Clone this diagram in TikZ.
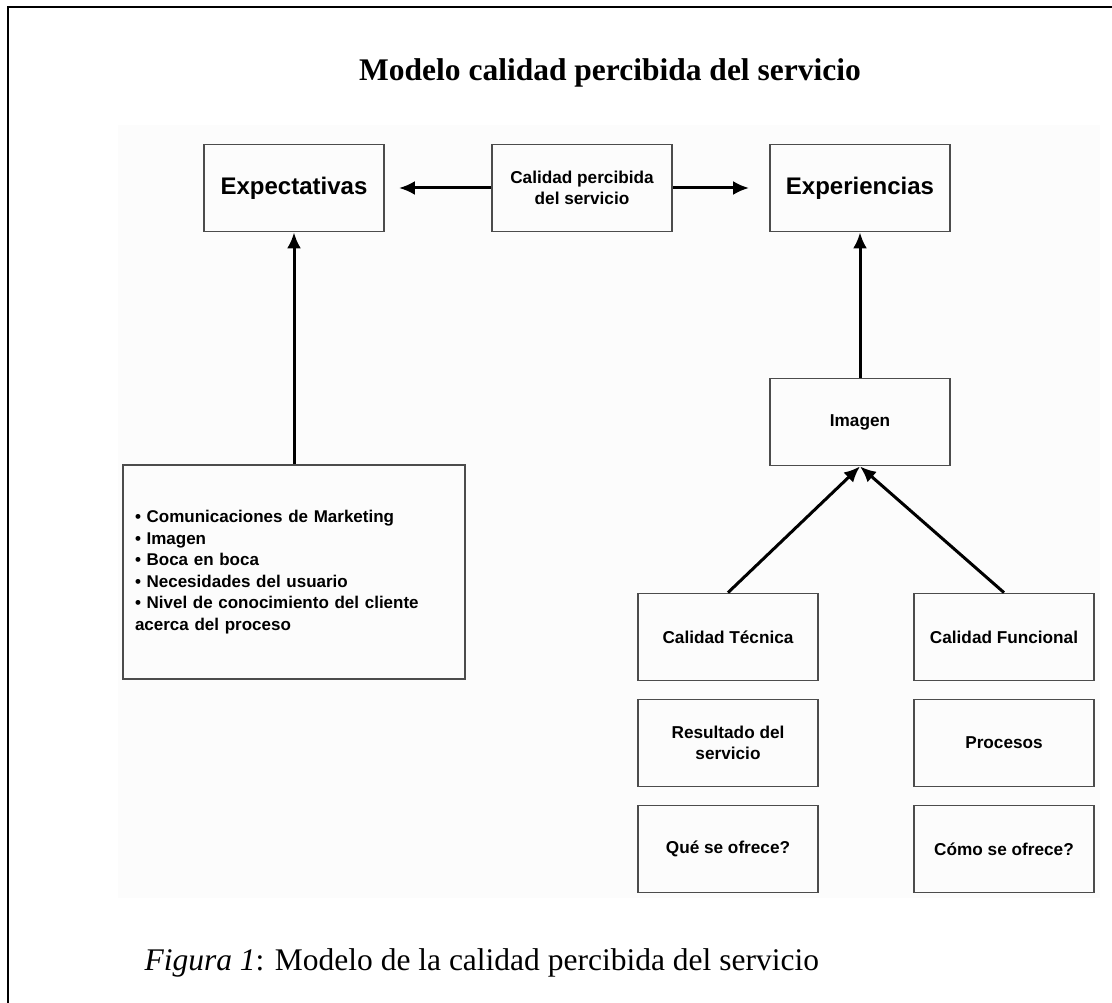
\documentclass[tikz,border=0pt]{standalone}
\usepackage{fontspec}
\setmainfont{Liberation Serif}
\newfontfamily\boxfont{Liberation Sans}
\usepackage{tikz}
\usetikzlibrary{arrows.meta}
\tikzstyle{Caja}=[rectangle, minimum width=180, minimum height=87, align=center, draw=black!70, line width=1.8, font=\boxfont\bfseries\fontsize{17.2}{21}\selectfont]
\tikzstyle{Flecha}=[line width=3, -{Latex[length=16,width=14]}]

\begin{document}
\begin{tikzpicture}[x=1pt, y=-1pt]
    \useasboundingbox (0,0) rectangle (1112,1003);
    \fill[black!1] (118,125) rectangle (1100,898);
    \draw[line width=2.5] (8,1003) -- (8,7) -- (1112,7);

    \path
    (610,73) node[font=\bfseries\fontsize{31.5}{36}\selectfont] (titulo) {Modelo calidad percibida del servicio}
    (141,963) node[anchor=west, font=\fontsize{31.5}{36}\selectfont] (pie) {\textit{Figura 1}: Modelo de la calidad percibida del servicio};

    \path
    (294,188) node[Caja, font=\boxfont\bfseries\fontsize{24}{28}\selectfont] (expect) {Expectativas}
    (582,188) node[Caja] (calidad) {Calidad percibida\\del servicio}
    (860,188) node[Caja, font=\boxfont\bfseries\fontsize{24}{28}\selectfont] (exper) {Experiencias}
    (860,422) node[Caja] (imagen) {Imagen}
    (294,572) node[Caja, minimum width=342, minimum height=214, text width=318, align=left, font=\boxfont\bfseries\fontsize{17}{21.5}\selectfont] (lista) {%
        \textbullet\ Comunicaciones de Marketing\\
        \textbullet\ Imagen\\
        \textbullet\ Boca en boca\\
        \textbullet\ Necesidades del usuario\\
        \textbullet\ Nivel de conocimiento del cliente\\
        acerca del proceso};

    \path
    (728,637) node[Caja] (tecnica) {Calidad Técnica}
    (1004,637) node[Caja] (funcional) {Calidad Funcional}
    (728,743) node[Caja] (resultado) {Resultado del\\servicio}
    (1004,743) node[Caja] (procesos) {Procesos}
    (728,849) node[Caja] (que) {Qué se ofrece?}
    (1004,849) node[Caja] (como) {Cómo se ofrece?};

    \draw[Flecha, shorten >=14] (calidad) -- (expect);
    \draw[Flecha, shorten >=20] (calidad) -- (exper);
    \draw[Flecha] (lista) -- (expect);
    \draw[Flecha] (imagen) -- (exper);
    \draw[Flecha] (tecnica.north) -- (imagen.south);
    \draw[Flecha] (funcional.north) -- (imagen.south);
\end{tikzpicture}
\end{document}
